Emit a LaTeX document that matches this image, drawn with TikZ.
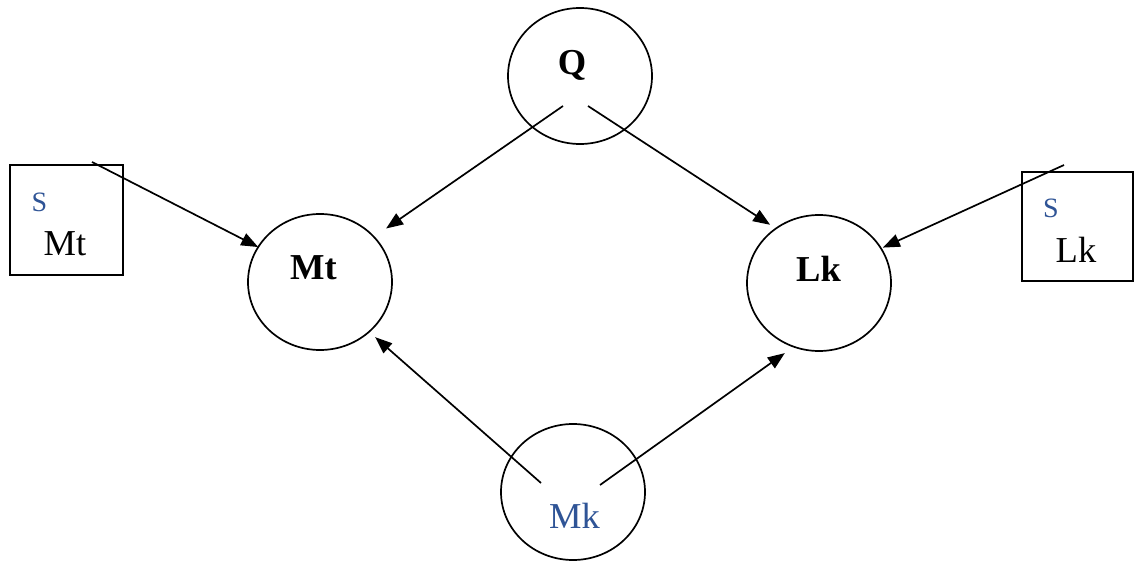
\documentclass[tikz,border=0pt]{standalone}
\usepackage{fontspec}
\setmainfont{Liberation Serif}
\usetikzlibrary{arrows.meta,shapes.geometric,calc}
\definecolor{sblue}{RGB}{47,84,150}
\begin{document}
\begin{tikzpicture}[x=1pt,y=1pt,
  var/.style={draw,ellipse,line width=1.7pt,minimum width=144pt,minimum height=136pt,inner sep=0pt},
  src/.style={draw,rectangle,line width=1.7pt,inner sep=0pt},
  big/.style={font=\fontsize{36.5}{40}\selectfont,anchor=base,inner sep=0pt},
  bigbold/.style={big,font=\fontsize{36.5}{40}\selectfont\bfseries},
  small/.style={font=\fontsize{28}{32}\selectfont,anchor=base,inner sep=0pt,text=sblue},
  link/.style={line width=1.7pt,-{Triangle[length=17pt,width=13pt]}}]
\useasboundingbox (0,0) rectangle (1134,560);

% variables
\node[var] (q)  at (580,484) {};
\node[var] (mt) at (320,278) {};
\node[var] (lk) at (819,277) {};
\node[var] (mk) at (573,68) {};

\node[bigbold] (qt)  at (572,485) {Q};
\node[bigbold] (mtt) at (313.5,280) {Mt};
\node[bigbold] (lkt) at (818.5,278) {Lk};
\node[big,text=sblue] (mkt) at (574.5,32) {Mk};

% source boxes
\node[src,minimum width=113pt,minimum height=110pt] (smt) at (66.5,340) {};
\node[small] (smts) at (39.5,348) {S};
\node[big] (smtt) at (65,304) {Mt};

\node[src,minimum width=111pt,minimum height=109pt] (slk) at (1077.5,333.5) {};
\node[small] (slks) at (1051,342) {S};
\node[big] (slkt) at (1076,297) {Lk};

% free ends of the connectors
\coordinate (qL) at (563,454);
\coordinate (qR) at (588,454);
\coordinate (mkL) at (541,77);
\coordinate (mkR) at (600,75);
\coordinate (smtE) at (92,398);
\coordinate (slkE) at (1064,395);

% connectors
\draw[link] (qL) -- ([shift={(39:85)}]mt.center);
\draw[link] (qR) -- ([shift={(130:76)}]lk.center);
\draw[link] (smtE) -- ([shift={(150.5:71)}]mt.center);
\draw[link] (slkE) -- ([shift={(29:73)}]lk.center);
\draw[link] (mkL) -- ([shift={(-45:78)}]mt.center);
\draw[link] (mkR) -- ([shift={(244:78)}]lk.center);
\end{tikzpicture}
\end{document}
